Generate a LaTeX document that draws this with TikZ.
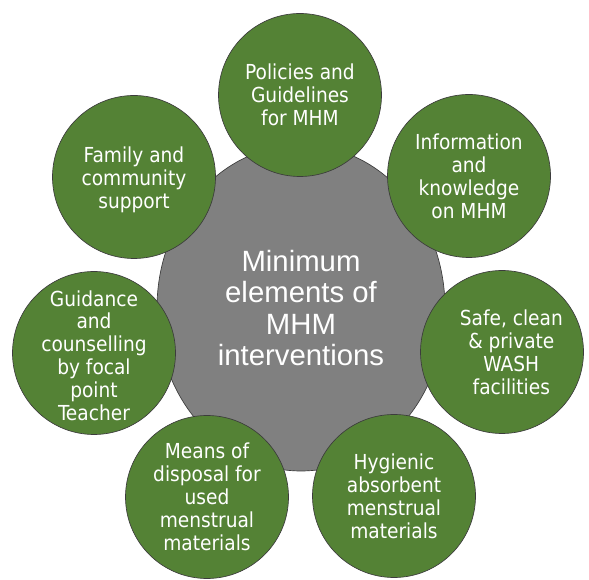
\documentclass[tikz,border=0pt]{standalone}
\usepackage{fontspec}
\setmainfont{Liberation Sans}
\newfontfamily\outerfont{DejaVu Sans Condensed}
\usetikzlibrary{shapes.geometric}
\definecolor{mhmgreen}{RGB}{84,130,53}
\definecolor{mhmgray}{RGB}{128,128,128}
\definecolor{edgegray}{RGB}{60,60,60}
\tikzset{
  hub/.style={ellipse, fill=mhmgray, draw=edgegray, line width=0.5pt,
    minimum width=288*0.75pt, minimum height=326*0.75pt, inner sep=0pt},
  spoke/.style={circle, fill=mhmgreen, draw=edgegray, line width=0.5pt,
    minimum size=163*0.75pt, inner sep=0pt},
  spoketext/.style={text=white, align=center, font=\outerfont\fontsize{15.5}{17.2}\selectfont},
  hubtext/.style={text=white, align=center, font=\fontsize{22}{23.3}\selectfont}
}
\begin{document}
\begin{tikzpicture}[x=0.75pt,y=-0.75pt]
\useasboundingbox (0,0) rectangle (589,580);
\node[hub] (hub) at (301,308) {};
\node[spoke] (c1) at (300,95) {};
\node[spoke] (c2) at (469,176) {};
\node[spoke] (c3) at (502,352) {};
\node[spoke] (c4) at (394,496) {};
\node[spoke] (c5) at (207,497) {};
\node[spoke] (c6) at (94,353) {};
\node[spoke] (c7) at (134,177) {};
\node[hubtext] (t0) at (hub.center) {Minimum\\elements of\\MHM\\interventions};
\node[spoketext] (t1) at (c1.center) {Policies and\\Guidelines\\for MHM};
\node[spoketext] (t2) at (c2.center) {Information\\and\\knowledge\\on MHM};
\node[spoketext] (t3) at ([xshift=7]c3.center) {Safe, clean\\\& private\\WASH\\facilities};
\node[spoketext] (t4) at (c4.center) {Hygienic\\absorbent\\menstrual\\materials};
\node[spoketext] (t5) at (c5.center) {Means of\\disposal for\\used\\menstrual\\materials};
\node[spoketext] (t6) at ([yshift=-2]c6.center) {Guidance\\and\\counselling\\by focal\\point\\Teacher};
\node[spoketext] (t7) at ([yshift=-2]c7.center) {Family and\\community\\support};
\end{tikzpicture}
\end{document}
